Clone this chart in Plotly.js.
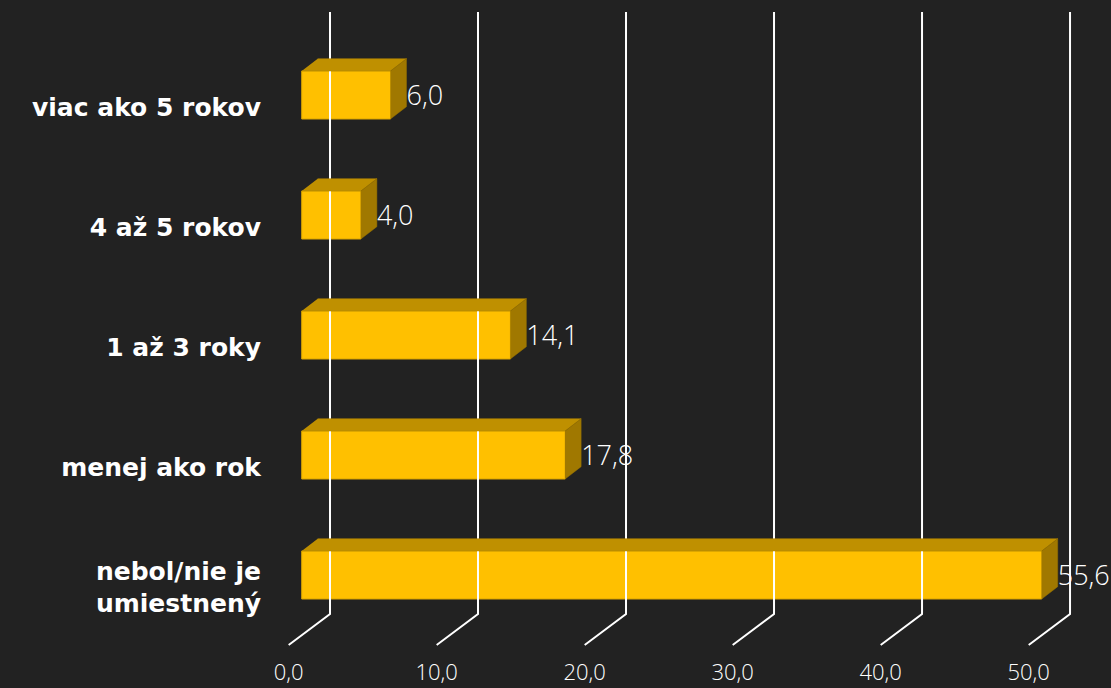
<!DOCTYPE html>
<html>
<head>
<meta charset="utf-8">
<script src="https://cdn.plot.ly/plotly-3.0.1.min.js"></script>
<style>html,body{margin:0;padding:0;background:#222222;}#chart{width:1111px;height:688px;}</style>
</head>
<body>
<div id="chart"></div>
<script>
// ---- data ----
const categories = ['nebol/nie je<br>umiestnený', 'menej ako rok', '1 až 3 roky', '4 až 5 rokov', 'viac ako 5 rokov'];
const values = [55.6, 17.8, 14.1, 4.0, 6.0];
const tickValues = [0, 10, 20, 30, 40, 50];
const axisMax = 50;

// ---- pseudo-3D geometry (data units) ----
const barWidth = 0.4;        // front face height in category units
const depthX = 1.08;         // bar depth offset along x (value units)
const depthY = 0.103;        // bar depth offset along y (category units)
const backShift = 1.912;     // back wall offset (value units)
const frontShift = -0.88;    // floor front edge offset (value units)
const wallTop = 4.692, floorBack = -0.325, floorFront = -0.583;
const labelShift = -0.1;

const yPos = categories.map((c, i) => i);
const shown = values.map(v => Math.min(v, axisMax));

const BAR = '#FFC000', TOP = '#BF9000', SIDE = '#A07800';

// gridlines (back wall verticals + floor diagonals)
const gx = [], gy = [];
tickValues.forEach(t => {
  gx.push(t + backShift, t + backShift, t + frontShift, null);
  gy.push(wallTop, floorBack, floorFront, null);
});

// top faces and side faces
const tx = [], ty = [], sx = [], sy = [];
shown.forEach((v, i) => {
  const y1 = yPos[i] + barWidth / 2, y0 = yPos[i] - barWidth / 2;
  tx.push(0, v, v + depthX, depthX, null);
  ty.push(y1, y1, y1 + depthY, y1 + depthY, null);
  sx.push(v, v + depthX, v + depthX, v, null);
  sy.push(y0, y0 + depthY, y1 + depthY, y1, null);
});

const traces = [
  {type: 'scatter', mode: 'lines', x: gx, y: gy, line: {color: '#FFFFFF', width: 2}, hoverinfo: 'skip', showlegend: false},
  {type: 'bar', orientation: 'h', x: shown, y: yPos, width: barWidth,
   marker: {color: BAR, line: {color: '#D9A400', width: 1}}, hoverinfo: 'skip', showlegend: false},
  {type: 'scatter', mode: 'lines', x: tx, y: ty, fill: 'toself', fillcolor: TOP, line: {color: '#B08400', width: 0.5}, hoverinfo: 'skip', showlegend: false},
  {type: 'scatter', mode: 'lines', x: sx, y: sy, fill: 'toself', fillcolor: SIDE, line: {color: '#957000', width: 0.5}, hoverinfo: 'skip', showlegend: false},
  {type: 'scatter', mode: 'text', x: shown.map(v => v + depthX), y: yPos.map(y => y - 0.03),
   customdata: values, texttemplate: '%{customdata:.1f}', textposition: 'middle right', cliponaxis: false,
   textfont: {family: 'Open Sans, sans-serif', size: 27, color: '#FFFFFF', weight: 300}, hoverinfo: 'skip', showlegend: false},
  // invisible trace to activate overlay axis for tick labels
  {type: 'scatter', mode: 'markers', x: tickValues, y: tickValues.map(() => floorFront), xaxis: 'x2',
   marker: {opacity: 0}, hoverinfo: 'skip', showlegend: false}
];

const L = 266, R = 0, T = 0, B = 33;
const xRange = [-2.412, 54.68];

const layout = {
  width: 1111, height: 688,
  margin: {l: L, r: R, t: T, b: B},
  paper_bgcolor: '#222222', plot_bgcolor: '#222222',
  separators: ', ',
  showlegend: false, hovermode: false,
  barmode: 'overlay',
  xaxis: {range: xRange, showgrid: false, zeroline: false, showticklabels: false, showline: false, fixedrange: true},
  xaxis2: {overlaying: 'x', side: 'bottom', range: [xRange[0] - frontShift, xRange[1] - frontShift],
           tickvals: tickValues, tickformat: '.1f', ticks: '', showgrid: false, zeroline: false, showline: false,
           ticklabelstandoff: 2,
           tickfont: {family: 'Open Sans, sans-serif', size: 22, color: '#FFFFFF', weight: 300}, fixedrange: true},
  yaxis: {range: [-0.6667, 4.7917], tickvals: yPos.map(y => y + labelShift), ticktext: categories,
          showgrid: false, zeroline: false, showline: false, ticks: '', ticklabelstandoff: 4,
          tickfont: {family: 'DejaVu Sans, sans-serif', size: 25, color: '#FFFFFF', weight: 'bold'}, fixedrange: true}
};

Plotly.newPlot('chart', traces, layout, {displayModeBar: false, staticPlot: true});
</script>
</body>
</html>
